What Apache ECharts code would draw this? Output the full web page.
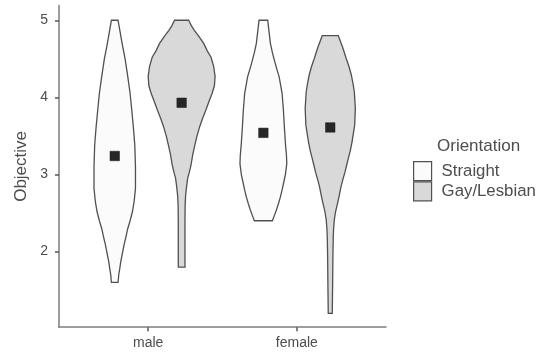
<!DOCTYPE html>
<html>
<head>
<meta charset="utf-8">
<script src="https://cdn.jsdelivr.net/npm/echarts@6/dist/echarts.min.js"></script>
<style>
  html, body { margin: 0; padding: 0; background: #fff; }
  #chart { width: 547px; height: 354px; }
</style>
</head>
<body>
<div id="chart"></div>
<script>
// Categories and groups
const categories = ['male', 'female'];
const groups = ['Straight', 'Gay/Lesbian'];
const yTicks = [2, 3, 4, 5];

// Group means of Objective, per category
const meanStraight = [3.24, 3.54];
const meanGay = [3.93, 3.61];

// Violin profiles: [Objective value, relative density (1 = widest violin)]
const densMaleStraight = [
  [5.00, 0.10], [4.85, 0.16], [4.70, 0.22], [4.50, 0.31], [4.27, 0.39],
  [4.05, 0.46], [3.83, 0.51], [3.60, 0.56], [3.38, 0.60], [3.10, 0.62],
  [2.82, 0.62], [2.65, 0.58], [2.52, 0.53], [2.40, 0.46], [2.30, 0.39],
  [2.20, 0.34], [2.09, 0.28], [1.98, 0.23], [1.87, 0.18], [1.78, 0.15],
  [1.70, 0.12], [1.60, 0.10]
];
const densMaleGay = [
  [5.00, 0.21], [4.93, 0.29], [4.87, 0.38], [4.80, 0.50], [4.70, 0.66],
  [4.60, 0.77], [4.52, 0.88], [4.40, 0.96], [4.27, 1.00], [4.15, 0.98],
  [4.05, 0.91], [3.95, 0.82], [3.83, 0.72], [3.72, 0.62], [3.62, 0.54],
  [3.50, 0.46], [3.37, 0.39], [3.25, 0.33], [3.12, 0.28], [3.03, 0.23],
  [2.95, 0.18], [2.85, 0.15], [2.73, 0.12], [2.60, 0.105], [2.40, 0.10],
  [2.10, 0.10], [1.80, 0.10]
];
const densFemaleStraight = [
  [5.00, 0.13], [4.85, 0.17], [4.70, 0.21], [4.58, 0.27], [4.48, 0.33],
  [4.37, 0.40], [4.27, 0.47], [4.15, 0.52], [4.05, 0.56], [3.83, 0.60],
  [3.60, 0.63], [3.40, 0.66], [3.25, 0.69], [3.14, 0.70], [3.00, 0.66],
  [2.88, 0.60], [2.80, 0.56], [2.71, 0.51], [2.62, 0.45], [2.54, 0.39],
  [2.47, 0.33], [2.40, 0.27]
];
const densFemaleGay = [
  [4.80, 0.24], [4.65, 0.37], [4.50, 0.48], [4.40, 0.56], [4.29, 0.63],
  [4.18, 0.68], [4.07, 0.72], [3.86, 0.75], [3.64, 0.73], [3.42, 0.65],
  [3.31, 0.60], [3.21, 0.54], [3.12, 0.49], [3.03, 0.44], [2.94, 0.38],
  [2.84, 0.32], [2.73, 0.27], [2.63, 0.22], [2.52, 0.16], [2.41, 0.12],
  [2.30, 0.10], [2.19, 0.09], [1.98, 0.08], [1.55, 0.07], [1.20, 0.06]
];

const profiles = [
  [densMaleStraight, densFemaleStraight],
  [densMaleGay, densFemaleGay]
];
const means = [meanStraight, meanGay];

// Layout of the dodged groups on the x scale (category k sits at k + 1)
const dodgeWidth = 0.9;
const halfSlot = dodgeWidth / 4;           // offset of each group from the category centre
const maxHalfWidth = dodgeWidth / 4;       // half width of the widest violin
const groupOffset = [-halfSlot, halfSlot];

const fills = ['#fbfbfb', '#d9d9d9'];
const strokeColor = '#505050';
const textColor = '#4d4d4d';
const fontFamily = '"Liberation Sans", Arial, sans-serif';

function violinSeries(g) {
  return {
    type: 'custom',
    name: groups[g],
    itemStyle: { color: fills[g], borderColor: strokeColor, borderWidth: 1 },
    data: categories.map((c, k) => [k]),
    renderItem: function (params, api) {
      const k = api.value(0);
      const prof = profiles[g][k];
      const cx = k + 1 + groupOffset[g];
      const right = prof.map(p => api.coord([cx + p[1] * maxHalfWidth, p[0]]));
      const left = prof.slice().reverse().map(p => api.coord([cx - p[1] * maxHalfWidth, p[0]]));
      return {
        type: 'polygon',
        shape: { points: right.concat(left) },
        style: { fill: fills[g], stroke: strokeColor, lineWidth: 1.3 }
      };
    },
    z: 2
  };
}

function meanSeries(g) {
  return {
    type: 'scatter',
    name: groups[g] + ' mean',
    symbol: 'rect',
    symbolSize: 9.5,
    itemStyle: { color: '#262626', borderColor: '#1a1a1a', borderWidth: 0.5, opacity: 1 },
    data: means[g].map((m, k) => [k + 1 + groupOffset[g], m]),
    z: 5,
    silent: true
  };
}

const chart = echarts.init(document.getElementById('chart'), null, { renderer: 'canvas' });

chart.setOption({
  animation: false,
  backgroundColor: '#ffffff',
  textStyle: { fontFamily: fontFamily },
  grid: { left: 59, top: 5.6, width: 327, height: 321.6, containLabel: false },
  title: {
    text: 'Orientation',
    left: 432,
    top: 133,
    textStyle: { fontFamily: fontFamily, fontSize: 17, fontWeight: 'normal', color: textColor }
  },
  legend: {
    data: groups,
    orient: 'vertical',
    left: 413,
    top: 161,
    itemGap: 0,
    itemWidth: 18,
    itemHeight: 19,
    icon: 'rect',
    padding: 0,
    textStyle: { fontFamily: fontFamily, fontSize: 16.8, color: textColor, lineHeight: 19, padding: [0, 0, 0, 5] },
    itemStyle: { borderColor: strokeColor, borderWidth: 1.2 }
  },
  xAxis: {
    type: 'value',
    min: 0.4,
    max: 2.6,
    splitLine: { show: false },
    axisLine: { show: true, lineStyle: { color: '#7d7d7d', width: 1.5 } },
    axisTick: { show: true, customValues: [1, 2], length: 4, lineStyle: { color: '#555', width: 1.5 } },
    axisLabel: {
      customValues: [1, 2],
      formatter: v => categories[Math.round(v) - 1],
      fontSize: 14, color: textColor, fontFamily: fontFamily, margin: 9
    }
  },
  yAxis: {
    type: 'value',
    min: 1.02,
    max: 5.19,
    name: 'Objective',
    nameLocation: 'middle',
    nameGap: 28,
    nameTextStyle: { fontSize: 17, color: textColor, fontFamily: fontFamily },
    splitLine: { show: false },
    axisLine: { show: true, lineStyle: { color: '#7d7d7d', width: 1.5 } },
    axisTick: { show: true, customValues: yTicks, length: 4, lineStyle: { color: '#555', width: 1.5 } },
    axisLabel: {
      customValues: yTicks,
      fontSize: 14, color: textColor, fontFamily: fontFamily, margin: 11
    }
  },
  series: [violinSeries(0), violinSeries(1), meanSeries(0), meanSeries(1)]
});
</script>
</body>
</html>
